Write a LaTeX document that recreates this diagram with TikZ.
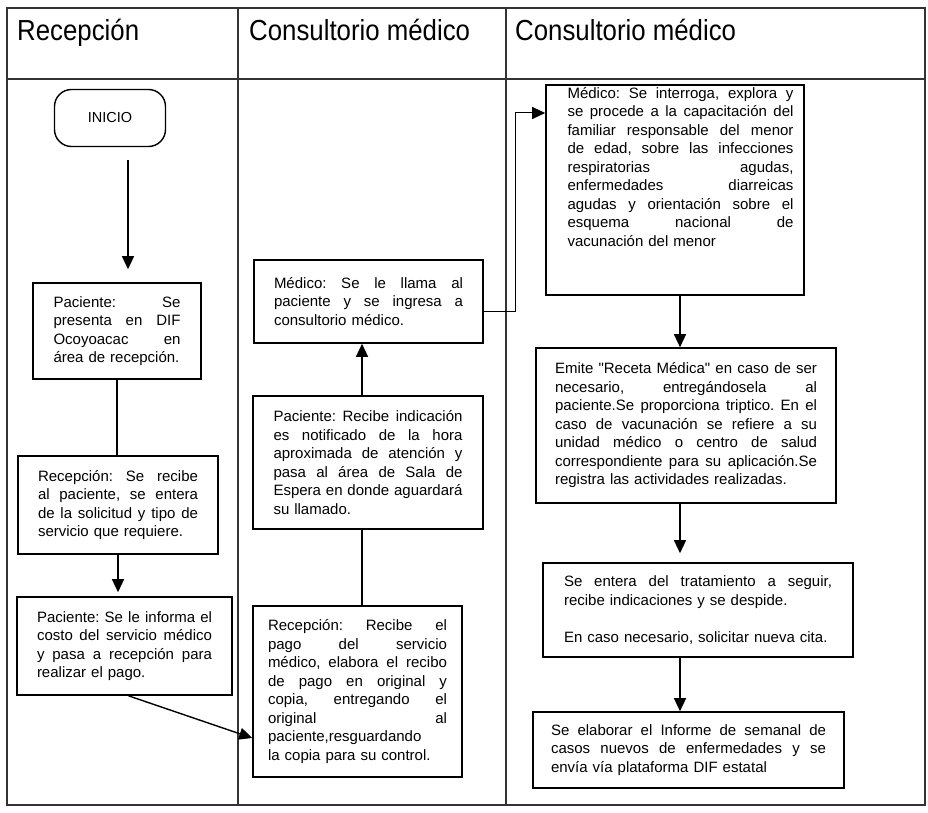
\documentclass[tikz,border=0pt]{standalone}
\usepackage{fontspec}
\setmainfont{Liberation Sans}[Ligatures=TeXOff]
\newfontfamily\hdrfont[FakeStretch=0.89]{Liberation Sans}
\usetikzlibrary{arrows.meta}
\newcommand{\jl}[1]{{\spaceskip=0pt\xspaceskip=0pt\makebox[\linewidth][s]{#1}}}
\begin{document}
\frenchspacing
\begin{tikzpicture}[x=1pt,y=-1pt,
  grid/.style={draw=black!80, line width=1.5pt},
  hdr/.style={font=\hdrfont\fontsize{29}{32}\selectfont, inner sep=0pt, anchor=base west},
  box/.style={draw=black, line width=1.6pt, inner sep=0pt, align=left,
    font=\fontsize{15}{18.5}\selectfont\frenchspacing},
  txt/.style={inner sep=0pt, align=left, font=\fontsize{15}{18.5}\selectfont\frenchspacing},
  ln/.style={line width=1.4pt},
  arr/.style={line width=1.4pt, -{Triangle[length=13pt,width=12pt]}}]
\useasboundingbox (0,0) rectangle (928,813);
% table
\draw[grid] (7,8) rectangle (925,805);
\draw[grid] (7,79) -- (925,79);
\draw[grid] (238,8) -- (238,805);
\draw[grid] (506,8) -- (506,805);
% headers
\node[hdr] (h1) at (17,41) {Recepción};
\node[hdr] (h2) at (249,41) {Consultorio médico};
\node[hdr] (h3) at (515,41) {Consultorio médico};
% lane 1
\node[draw=black, line width=1.4pt, rounded corners=17pt, minimum width=111pt,
  minimum height=57pt, font=\fontsize{14.5}{16}\selectfont] (inicio) at (110,118) {INICIO};
\node[box, minimum width=168pt, minimum height=96pt, text width=127pt] (p1) at (117,331)
 {\jl{Paciente: Se}\\ \jl{presenta en DIF}\\ \jl{Ocoyoacac en}\\ área de recepción.};
\node[box, minimum width=200pt, minimum height=98pt, text width=160pt] (r1) at (118,505)
 {\jl{Recepción: Se recibe}\\ \jl{al paciente, se entera}\\ \jl{de la solicitud y tipo de}\\ servicio que requiere.};
\node[box, minimum width=215pt, minimum height=98pt, text width=175pt] (p2) at (124.5,646)
 {\jl{Paciente: Se le informa el}\\ \jl{costo del servicio médico}\\ \jl{y pasa a recepción para}\\ realizar el pago.};
% lane 2
\node[box, minimum width=229pt, minimum height=83pt, text width=189pt] (mll) at (368.5,301.5)
 {\jl{Médico: Se le llama al}\\ \jl{paciente y se ingresa a}\\ consultorio médico.};
\node[box, minimum width=230pt, minimum height=133pt, text width=189pt] (pr) at (368,462.5)
 {\jl{Paciente: Recibe indicación}\\ \jl{es notificado de la hora}\\ \jl{aproximada de atención y}\\ \jl{pasa al área de Sala de}\\ \jl{Espera en donde aguardará}\\ su llamado.};
\node[box, minimum width=209pt, minimum height=171pt, text width=179pt] (r2) at (357.5,691.5)
 {\jl{Recepción: Recibe el}\\ \jl{pago del servicio}\\ \jl{médico, elabora el recibo}\\ \jl{de pago en original y}\\ \jl{copia, entregando el}\\ \jl{original al}\\ paciente,resguardando\\ la copia para su control.};
% lane 3
\node[box, minimum width=258pt, minimum height=210pt] (mi) at (675,190) {};
\node[txt, text width=226pt, anchor=north] (mitxt) at (680.5,87)
 {\jl{Médico: Se interroga, explora y}\\ \jl{se procede a la capacitación del}\\ \jl{familiar responsable del menor}\\ \jl{de edad, sobre las infecciones}\\ \jl{respiratorias agudas,}\\ \jl{enfermedades diarreicas}\\ \jl{agudas y orientación sobre el}\\ \jl{esquema nacional de}\\ vacunación del menor};
\node[box, minimum width=300pt, minimum height=155pt, text width=262pt] (rm) at (686,425.5)
 {\jl{Emite "Receta Médica" en caso de ser}\\ \jl{necesario, entregándosela al}\\ \jl{paciente.Se proporciona triptico. En el}\\ \jl{caso de vacunación se refiere a su}\\ \jl{unidad médico o centro de salud}\\ \jl{correspondiente para su aplicación.Se}\\ registra las actividades realizadas.};
\node[box, minimum width=310pt, minimum height=94pt, text width=268pt] (se) at (698,610)
 {\jl{Se entera del tratamiento a seguir,}\\ recibe indicaciones y se despide.\\[18.5pt] En caso necesario, solicitar nueva cita.};
\node[box, minimum width=311pt, minimum height=76pt, text width=275pt] (si) at (688.5,750)
 {\jl{Se elaborar el Informe de semanal de}\\ \jl{casos nuevos de enfermedades y se}\\ envía vía plataforma DIF estatal};
% connectors
\coordinate (a0) at (128,160);
\draw[arr, shorten >=13pt] (a0) -- (a0 |- p1.north);
\draw[ln] (p1.south) -- (p1.south |- r1.north);
\draw[arr, shorten >=4pt] (r1.south) -- (r1.south |- p2.north);
\draw[arr] ([xshift=4pt]p2.south) -- ([yshift=-46.5pt]r2.west);
\coordinate (cx) at (362,0);
\draw[ln] (r2.north -| cx) -- (pr.south -| cx);
\draw[arr] (pr.north -| cx) -- (mll.south -| cx);
\coordinate (bend) at (515,113);
\draw[arr, line width=1pt] ([yshift=-9.5pt]mll.east) -| (bend) -- (bend -| mi.west);
\coordinate (cr) at (680,0);
\draw[arr] (mi.south -| cr) -- (rm.north -| cr);
\draw[arr, shorten >=9pt] (rm.south -| cr) -- (se.north -| cr);
\draw[arr] (se.south -| cr) -- (si.north -| cr);
\end{tikzpicture}
\end{document}
